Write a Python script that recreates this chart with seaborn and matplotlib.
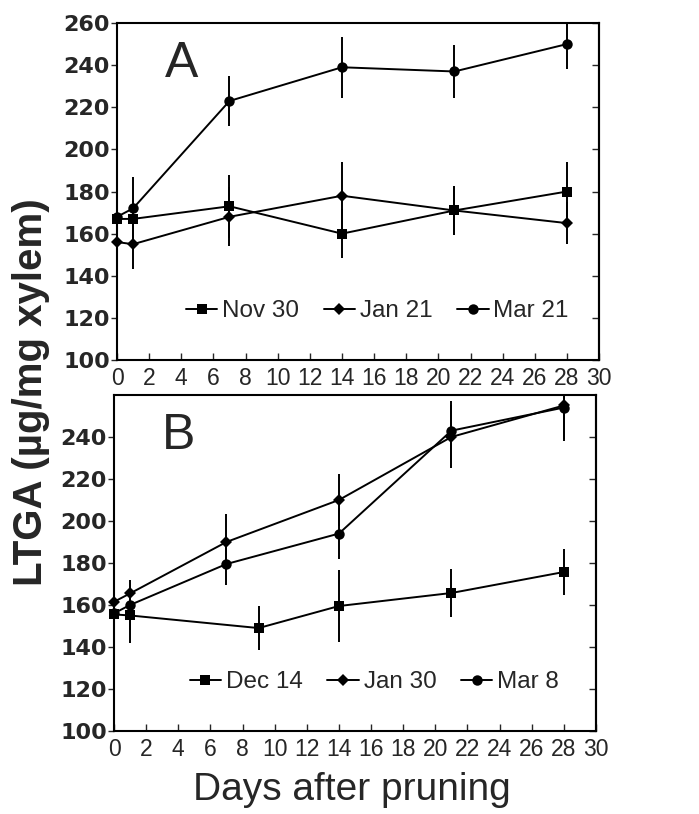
import numpy as np
import pandas as pd
import seaborn as sns
import matplotlib.pyplot as plt

# Panel A
days_a = [0, 1, 7, 14, 21, 28]
nov30 = [167, 167, 173, 160, 171, 180]
nov30_err = [0, 0, 15, 11.5, 11.5, 14]
jan21 = [156, 155, 168, 178, 171, 165]
jan21_err = [0, 12, 14, 16, 11.5, 10]
mar21 = [168, 172, 223, 239, 237, 250]
mar21_err = [0, 15, 12, 14.5, 12.7, 12]

# Panel B
days_dec = [0, 1, 9, 14, 21, 28]
dec14 = [155.5, 155, 149, 159.5, 165.7, 175.7]
dec14_err = [0, 13, 10.5, 17, 11.5, 11]
days_b = [0, 1, 7, 14, 21, 28]
jan30 = [161.5, 165.5, 190, 210, 240, 255]
jan30_err = [13, 0, 13.5, 12.5, 15, 16]
mar8 = [156, 160, 179.5, 194, 243, 254]
mar8_err = [0, 12, 10, 12, 14, 16]

x_ticks = list(range(0, 31, 2))

sns.set_style("white")
plt.rcParams["font.family"] = ["Liberation Sans", "DejaVu Sans"]

fig = plt.figure(figsize=(6.99, 8.14), dpi=100)
ax_a = fig.add_axes([0.1674, 0.5577, 0.6896, 0.414])
ax_b = fig.add_axes([0.1631, 0.102, 0.6896, 0.4128])

markers = {"s": 6.5, "D": 6, "o": 7.5}


def draw_panel(ax, series, letter, yticks):
    for days, vals, errs, label, marker in series:
        df = pd.DataFrame({"day": days, "value": vals, "err": errs})
        sns.lineplot(data=df, x="day", y="value", ax=ax, color="black",
                     marker=marker, markersize=markers[marker], markeredgewidth=0,
                     linewidth=1.4, label=label, clip_on=False, legend=False)
        ax.errorbar(df["day"], df["value"], yerr=df["err"], fmt="none",
                    ecolor="black", elinewidth=1.4, capsize=0)

    ax.set_xlim(0, 30)
    ax.set_ylim(100, 260)
    ax.set_xticks(x_ticks)
    ax.set_yticks(yticks)
    ax.set(xlabel=None, ylabel=None)
    for side in ["left", "right", "top", "bottom"]:
        ax.spines[side].set_visible(True)
        ax.spines[side].set_linewidth(1.5)
        ax.spines[side].set_color("black")
    ax.tick_params(axis="x", direction="in", length=5, width=1, pad=5,
                   labelsize=16.5, bottom=True)
    ax.tick_params(axis="y", direction="out", length=4, width=1, pad=1,
                   left=True)
    for lab in ax.get_yticklabels():
        lab.set_fontfamily("DejaVu Sans")
        lab.set_fontweight("bold")
        lab.set_fontsize(16)

    right = ax.secondary_yaxis("right")
    right.set_yticks(yticks)
    right.tick_params(direction="in", length=5, width=1, labelright=False)
    right.spines["right"].set_linewidth(1.5)

    ax.text(0.1, 0.81, letter, transform=ax.transAxes, fontsize=36,
            ha="left", va="bottom")

    handles = [ln for ln in ax.get_lines() if not ln.get_label().startswith("_")]
    ax.legend(handles=handles, loc="center", bbox_to_anchor=(0.54, 0.145),
              ncol=3, frameon=False, fontsize=17.5, handlelength=1.3,
              handletextpad=0.2, columnspacing=1.0, borderpad=0)


draw_panel(ax_a, [
    (days_a, nov30, nov30_err, "Nov 30", "s"),
    (days_a, jan21, jan21_err, "Jan 21", "D"),
    (days_a, mar21, mar21_err, "Mar 21", "o"),
], "A", list(range(100, 261, 20)))

draw_panel(ax_b, [
    (days_dec, dec14, dec14_err, "Dec 14", "s"),
    (days_b, jan30, jan30_err, "Jan 30", "D"),
    (days_b, mar8, mar8_err, "Mar 8", "o"),
], "B", list(range(100, 241, 20)))

fig.text(0.045, 1 - 392 / 814, "LTGA (\u00b5g/mg xylem)", rotation=90,
         ha="center", va="center", fontsize=29, fontweight="bold")
fig.text(352 / 699, 1 - 790 / 814, "Days after pruning", ha="center",
         va="center", fontsize=28)

plt.savefig("out.png", dpi=100)
